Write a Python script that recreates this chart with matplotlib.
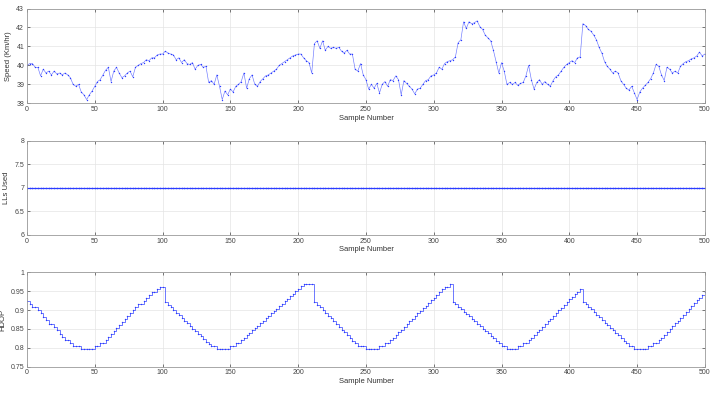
import numpy as np
import matplotlib
matplotlib.use('Agg')
from matplotlib import pyplot as plt
from matplotlib.ticker import FuncFormatter

plt.rcParams['font.family'] = ['Liberation Sans', 'DejaVu Sans']

# sample numbers (every 2nd sample)
samples = np.arange(0, 501, 2)

speed = [
    40.0, 40.1, 40.1, 39.9, 39.9, 39.45, 39.8, 39.6, 39.7, 39.5,      # 0-18
    39.7, 39.55, 39.6, 39.5, 39.6, 39.5, 39.35, 39.0, 38.9, 39.0,     # 20-38
    38.6, 38.45, 38.2, 38.45, 38.65, 38.9, 39.15, 39.25, 39.5, 39.75, # 40-58
    39.9, 39.15, 39.7, 39.9, 39.6, 39.35, 39.45, 39.6, 39.7, 39.4,    # 60-78
    39.9, 40.0, 40.1, 40.15, 40.3, 40.25, 40.4, 40.4, 40.55, 40.6,    # 80-98
    40.6, 40.75, 40.65, 40.6, 40.55, 40.3, 40.4, 40.15, 40.3, 40.1,   # 100-118
    40.05, 40.15, 39.8, 40.0, 40.05, 39.9, 39.95, 39.1, 39.2, 39.0,   # 120-138
    39.5, 38.9, 38.2, 38.65, 38.45, 38.75, 38.6, 38.9, 39.0, 39.15,   # 140-158
    39.6, 38.8, 39.3, 39.5, 39.0, 38.9, 39.15, 39.3, 39.45, 39.5,     # 160-178
    39.6, 39.7, 39.8, 40.0, 40.1, 40.2, 40.3, 40.4, 40.5, 40.55,      # 180-198
    40.6, 40.6, 40.4, 40.25, 40.15, 39.6, 41.15, 41.3, 40.9, 41.3,    # 200-218
    40.8, 41.0, 40.9, 40.95, 40.9, 40.95, 40.75, 40.65, 40.8, 40.6,   # 220-238
    40.6, 39.8, 39.7, 40.1, 39.5, 39.25, 38.75, 39.0, 38.8, 39.05,    # 240-258
    38.55, 39.0, 39.15, 38.9, 39.25, 39.2, 39.45, 39.25, 38.45, 39.2, # 260-278
    39.05, 38.9, 38.75, 38.5, 38.75, 38.8, 39.0, 39.2, 39.25, 39.45,  # 280-298
    39.5, 39.6, 39.9, 39.8, 40.1, 40.2, 40.25, 40.3, 40.45, 41.2,     # 300-318
    41.35, 42.3, 41.95, 42.3, 42.2, 42.25, 42.35, 42.05, 41.9, 41.6,  # 320-338
    41.45, 41.3, 40.8, 40.2, 39.6, 40.15, 39.7, 39.0, 39.1, 39.0,     # 340-358
    39.1, 38.95, 39.05, 39.1, 39.45, 40.0, 39.25, 38.75, 39.1, 39.25, # 360-378
    39.0, 39.15, 39.0, 38.9, 39.2, 39.4, 39.5, 39.7, 39.9, 40.05,     # 380-398
    40.15, 40.25, 40.15, 40.4, 40.45, 42.2, 42.1, 41.9, 41.8, 41.6,   # 400-418
    41.35, 40.95, 40.65, 40.2, 39.95, 39.8, 39.6, 39.7, 39.6, 39.2,   # 420-438
    39.0, 38.8, 38.7, 38.9, 38.55, 38.2, 38.6, 38.8, 38.95, 39.1,     # 440-458
    39.3, 39.6, 40.05, 39.95, 39.5, 39.2, 39.9, 39.8, 39.6, 39.7,     # 460-478
    39.6, 39.95, 40.1, 40.2, 40.25, 40.35, 40.4, 40.5, 40.7, 40.5,    # 480-498
    40.6,                                                             # 500
]

lls_used = [7] * len(samples)

hdop = [
    0.925, 0.917, 0.908, 0.908, 0.900, 0.891, 0.882, 0.873, 0.864, 0.864,  # 0-18
    0.855, 0.846, 0.837, 0.828, 0.820, 0.820, 0.812, 0.805, 0.805, 0.805,  # 20-38
    0.797, 0.797, 0.797, 0.797, 0.797, 0.805, 0.805, 0.812, 0.812, 0.820,  # 40-58
    0.828, 0.836, 0.844, 0.852, 0.860, 0.868, 0.876, 0.884, 0.892, 0.900,  # 60-78
    0.908, 0.916, 0.916, 0.924, 0.932, 0.940, 0.947, 0.947, 0.955, 0.962,  # 80-98
    0.962, 0.921, 0.914, 0.908, 0.900, 0.893, 0.886, 0.879, 0.872, 0.865,  # 100-118
    0.858, 0.851, 0.844, 0.837, 0.830, 0.823, 0.816, 0.810, 0.805, 0.805,  # 120-138
    0.797, 0.797, 0.797, 0.797, 0.797, 0.805, 0.805, 0.812, 0.812, 0.820,  # 140-158
    0.826, 0.833, 0.839, 0.846, 0.852, 0.859, 0.865, 0.872, 0.878, 0.885,  # 160-178
    0.891, 0.898, 0.904, 0.911, 0.917, 0.924, 0.930, 0.937, 0.943, 0.950,  # 180-198
    0.956, 0.963, 0.970, 0.970, 0.970, 0.970, 0.920, 0.914, 0.907, 0.900,  # 200-218
    0.892, 0.885, 0.878, 0.870, 0.863, 0.856, 0.848, 0.841, 0.834, 0.826,  # 220-238
    0.819, 0.812, 0.805, 0.805, 0.805, 0.797, 0.797, 0.797, 0.797, 0.797,  # 240-258
    0.805, 0.805, 0.812, 0.812, 0.820, 0.827, 0.834, 0.841, 0.848, 0.855,  # 260-278
    0.863, 0.870, 0.877, 0.884, 0.891, 0.898, 0.905, 0.912, 0.919, 0.926,  # 280-298
    0.933, 0.940, 0.947, 0.955, 0.962, 0.962, 0.970, 0.922, 0.916, 0.909,  # 300-318
    0.903, 0.896, 0.890, 0.883, 0.877, 0.870, 0.864, 0.857, 0.851, 0.844,  # 320-338
    0.838, 0.831, 0.825, 0.818, 0.812, 0.805, 0.805, 0.797, 0.797, 0.797,  # 340-358
    0.797, 0.805, 0.805, 0.812, 0.812, 0.820, 0.827, 0.834, 0.841, 0.848,  # 360-378
    0.856, 0.863, 0.870, 0.877, 0.884, 0.892, 0.899, 0.906, 0.913, 0.920,  # 380-398
    0.928, 0.935, 0.942, 0.949, 0.955, 0.922, 0.916, 0.909, 0.902, 0.895,  # 400-418
    0.888, 0.881, 0.874, 0.867, 0.860, 0.853, 0.846, 0.840, 0.833, 0.826,  # 420-438
    0.819, 0.812, 0.805, 0.805, 0.797, 0.797, 0.797, 0.797, 0.797, 0.805,  # 440-458
    0.805, 0.812, 0.812, 0.820, 0.827, 0.835, 0.842, 0.850, 0.857, 0.865,  # 460-478
    0.872, 0.880, 0.888, 0.895, 0.903, 0.910, 0.918, 0.926, 0.933, 0.941,  # 480-498
    0.949,                                                                 # 500
]

ylabels = ['Speed (Km/hr)', 'LLs Used', 'HDOP']
ylims = [(38, 43), (6, 8), (0.75, 1)]
yticks = [[38, 39, 40, 41, 42, 43],
          [6, 6.5, 7, 7.5, 8],
          [0.75, 0.8, 0.85, 0.9, 0.95, 1]]
xticks = [0, 50, 100, 150, 200, 250, 300, 350, 400, 450, 500]

fig = plt.figure(figsize=(7.2, 3.96), dpi=100)
# left, bottom, width, height (matched to the reference pixels)
boxes = [[0.0375, 0.739, 0.9415, 0.2395],
         [0.0375, 0.4066, 0.9415, 0.2374],
         [0.0375, 0.074, 0.9415, 0.2384]]

line_col = '#2b3cff'
series = [speed, lls_used, hdop]
for i in range(3):
    ax = fig.add_axes(boxes[i])
    if i == 2:
        ax.plot(samples, series[i], color=line_col, lw=0.6, alpha=0.8,
                drawstyle='steps-post')
        ax.plot(samples, series[i], '.', color=line_col, ms=2, mew=0)
    elif i == 1:
        ax.plot(samples, series[i], '.-', color=line_col, lw=0.9, ms=2.2,
                mew=0)
    else:
        ax.plot(samples, series[i], '-', color=line_col, lw=0.45, alpha=0.7)
        ax.plot(samples, series[i], '.', color=line_col, ms=2, mew=0)
    ax.set_xlim(0, 500)
    ax.set_ylim(*ylims[i])
    ax.set_xticks(xticks)
    ax.set_yticks(yticks[i])
    ax.yaxis.set_major_formatter(FuncFormatter(lambda v, p: '%g' % v))
    ax.grid(True, color='#e4e4e4', lw=0.5)
    ax.set_axisbelow(True)
    ax.tick_params(direction='in', length=2.5, width=0.5, labelsize=5,
                   colors='#444444', top=True, right=True, pad=2)
    for s in ax.spines.values():
        s.set_color('#9a9a9a')
        s.set_linewidth(0.6)
    ax.set_xlabel('Sample Number', fontsize=5.5, color='#333333', labelpad=1)
    ax.set_ylabel(ylabels[i], fontsize=5.5, color='#333333', labelpad=3)

plt.savefig('out.png', dpi=100)
